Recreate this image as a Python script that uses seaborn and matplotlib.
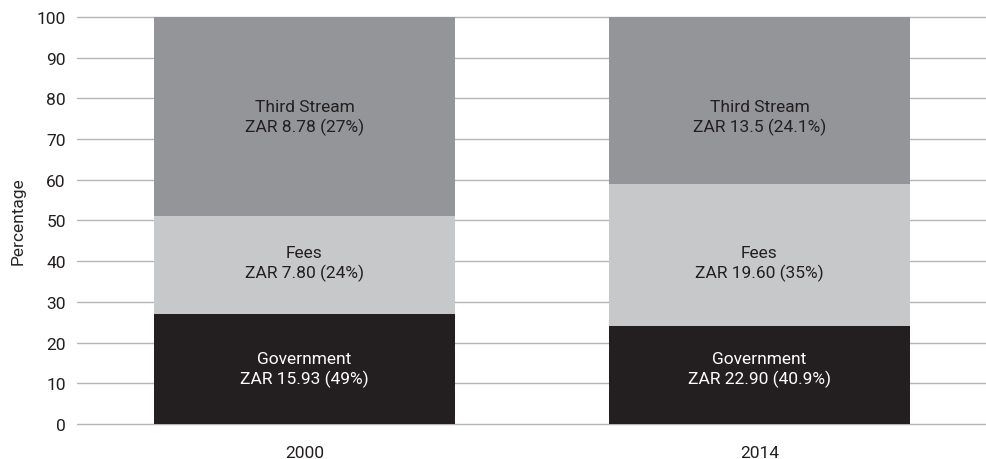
import numpy as np
import pandas as pd
import matplotlib
matplotlib.use('Agg')
import matplotlib.pyplot as plt
import seaborn as sns

years = ['2000', '2014']
segments = ['Government', 'Fees', 'Third Stream']
government = [27, 24]
fees = [24, 35]
third_stream = [49, 41]
labels = {
    'Government': ['ZAR 15.93 (49%)', 'ZAR 22.90 (40.9%)'],
    'Fees': ['ZAR 7.80 (24%)', 'ZAR 19.60 (35%)'],
    'Third Stream': ['ZAR 8.78 (27%)', 'ZAR 13.5 (24.1%)'],
}
# labels in the original sit at the same height in both bars
label_y = {'Government': 13.5, 'Fees': 39.5, 'Third Stream': 75.5}
colors = {'Government': '#231f20', 'Fees': '#c7c8ca', 'Third Stream': '#939598'}
text_colors = {'Government': 'white', 'Fees': '#231f20', 'Third Stream': '#231f20'}

sns.set_style('white')
plt.rcParams['font.family'] = ['Roboto', 'DejaVu Sans']
plt.rcParams['text.color'] = '#231f20'

df = pd.DataFrame({'year': years, 'Government': government,
                   'Fees': fees, 'Third Stream': third_stream})
df['top_gov'] = df['Government']
df['top_fees'] = df['top_gov'] + df['Fees']
df['top_third'] = df['top_fees'] + df['Third Stream']

fig = plt.figure(figsize=(9.87, 4.6), dpi=100)
ax = fig.add_axes([0.078, 0.076, 0.922, 0.885])

# draw tallest first so the lower segments sit on top
for col, seg in [('top_third', 'Third Stream'), ('top_fees', 'Fees'), ('top_gov', 'Government')]:
    sns.barplot(data=df, x='year', y=col, color=colors[seg], width=0.66,
                saturation=1, linewidth=0, ax=ax, zorder=3)

for seg in segments:
    for i in range(len(years)):
        ax.text(i, label_y[seg], seg + '\n' + labels[seg][i], ha='center', va='center',
                fontsize=12.5, color=text_colors[seg], linespacing=1.3, zorder=4)

ax.set_xlim(-0.5, 1.5)
ax.set_ylim(0, 100)
ax.set_yticks(range(0, 101, 10))
ax.yaxis.grid(True, color='#b5b5b5', linewidth=1)
for gl in ax.get_ygridlines():
    gl.set_clip_on(False)
ax.set_axisbelow(True)
for s in ax.spines.values():
    s.set_visible(False)
ax.tick_params(axis='both', length=0, labelsize=12.5, colors='#231f20')
ax.tick_params(axis='y', pad=8)
ax.tick_params(axis='x', pad=15)
ax.set_xlabel('')
ax.set_ylabel('Percentage', fontsize=12.5, labelpad=8)

fig.savefig('out.png', dpi=100)
